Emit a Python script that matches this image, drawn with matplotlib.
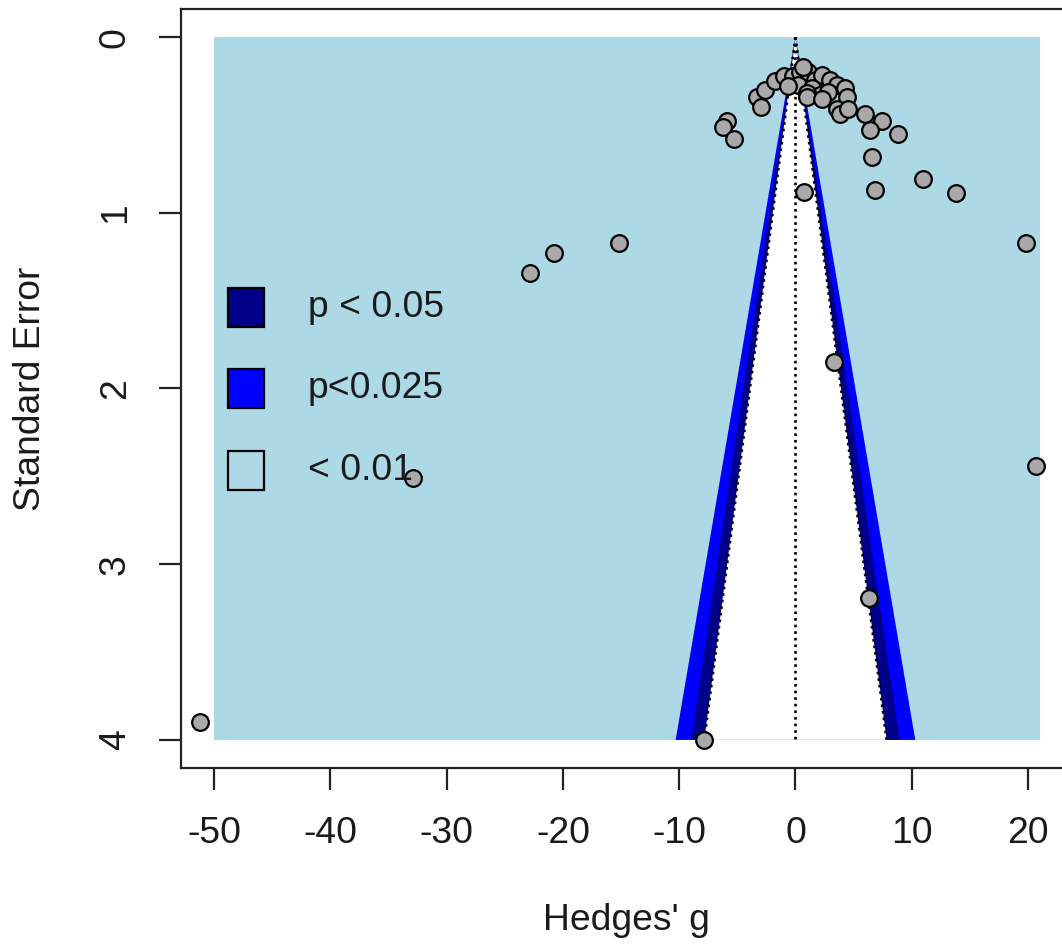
import matplotlib
matplotlib.use("Agg")
import matplotlib.pyplot as plt
from matplotlib.patches import Rectangle, Polygon

plt.rcParams['font.family'] = ['Liberation Sans', 'DejaVu Sans']

# ---- data ----
hedges_g = [-51.2, -7.87, -32.9, -22.8, -20.8, -15.2, 19.8, 20.7, 3.3, 6.3,
            0.74, 11.0, 13.8, 6.8, 6.6, 8.8, 7.4, 6.4, 6.0, -5.9, -6.2, -5.3,
            -3.3, -3.0, -2.6, -1.75, -1.0, -0.2, 0.4, 1.1, 0.65, 0.25, -0.6,
            1.7, 2.26, 3.0, 3.55, 1.4, 2.1, 1.0, 2.8, 4.26, 4.4, 3.55, 3.8,
            4.5, 1.0, 2.3]
std_err = [3.90, 4.00, 2.51, 1.34, 1.23, 1.17, 1.17, 2.44, 1.85, 3.19,
           0.88, 0.81, 0.89, 0.87, 0.68, 0.55, 0.48, 0.53, 0.44, 0.48, 0.51, 0.58,
           0.34, 0.40, 0.30, 0.25, 0.22, 0.22, 0.20, 0.20, 0.17, 0.27, 0.28,
           0.245, 0.215, 0.245, 0.27, 0.29, 0.33, 0.32, 0.31, 0.29, 0.34, 0.41, 0.44,
           0.41, 0.34, 0.35]

region_x = (-50, 21)
se_max = 4.0
contour_z = [2.5758, 2.2414, 1.96]
contour_colors = ['#0000FF', '#00008B', '#FFFFFF']
background_color = '#ADD8E6'
legend_labels = ["p < 0.05", "p<0.025", "< 0.01"]
legend_colors = ['#00008B', '#0000FF', '#ADD8E6']
x_ticks = [-50, -40, -30, -20, -10, 0, 10, 20]
y_ticks = [0, 1, 2, 3, 4]

FS = 26.8

fig = plt.figure(figsize=(10.62, 9.51), dpi=100)
ax = fig.add_axes([0.17043, 0.19243, 0.83964, 0.79811])
ax.set_xlim(-52.84, 23.84)
ax.set_ylim(se_max + 0.16, -0.16)

# background region
ax.add_patch(Rectangle((region_x[0], 0), region_x[1] - region_x[0], se_max,
                       facecolor=background_color, edgecolor='none', zorder=1))
# contours
for z, col in zip(contour_z, contour_colors):
    ax.add_patch(Polygon([(0, 0), (-z * se_max, se_max), (z * se_max, se_max)],
                         closed=True, facecolor=col, edgecolor='none', zorder=2))
# pseudo-confidence lines
dot = (0, (1.0, 1.5))
ax.plot([0, 0], [0, se_max], color='black', lw=1.9, ls=dot, zorder=3)
ax.plot([0, -1.96 * se_max], [0, se_max], color='black', lw=1.9, ls=dot, zorder=3)
ax.plot([0, 1.96 * se_max], [0, se_max], color='black', lw=1.9, ls=dot, zorder=3)

# studies
ax.scatter(hedges_g, std_err, s=12.0 ** 2, c='#A9A9A9', edgecolors='black',
           linewidths=1.6, zorder=5, clip_on=False)

# legend (manual, R style without box)
sq_y = [0.581, 0.474, 0.366]
for lab, col, yb in zip(legend_labels, legend_colors, sq_y):
    ax.add_patch(Rectangle((0.0527, yb), 0.0404, 0.0514, transform=ax.transAxes,
                           facecolor=col, edgecolor='black', lw=1.6, zorder=6))
    ax.text(0.1424, yb + 0.0257, lab, transform=ax.transAxes, fontsize=FS,
            ha='left', va='center', color='#1a1a1a', zorder=7)

# axes styling
for s in ax.spines.values():
    s.set_linewidth(1.6)
    s.set_color('#222222')
ax.set_xticks(x_ticks)
ax.set_yticks(y_ticks)
ax.set_xticklabels([str(t) for t in x_ticks])
ax.set_yticklabels([str(t) for t in y_ticks])
ax.tick_params(axis='both', direction='out', length=15.8, width=1.6,
               labelsize=FS, colors='#222222', labelcolor='#1a1a1a')
ax.tick_params(axis='x', pad=19)
ax.tick_params(axis='y', pad=19, labelrotation=90)
for lbl in ax.get_yticklabels():
    lbl.set_va('center')

ax.set_xlabel("Hedges' g", fontsize=FS, color='#1a1a1a')
ax.set_ylabel("Standard Error", fontsize=FS, color='#1a1a1a')
ax.xaxis.set_label_coords(0.5, -0.178)
ax.yaxis.set_label_coords(-0.149, 0.5)

fig.savefig('out.png', dpi=100)
